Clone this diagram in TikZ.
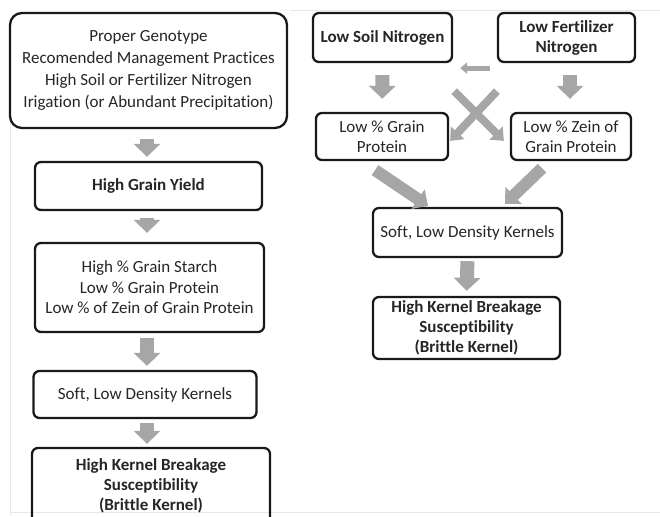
\documentclass[tikz,border=0pt]{standalone}
\usepackage{fontspec}
\setmainfont[Ligatures={NoCommon}]{Carlito}
\usetikzlibrary{arrows.meta,calc}
\definecolor{arrowgray}{HTML}{A6A6A6}
\definecolor{textgray}{HTML}{262626}
\definecolor{framegray}{HTML}{E8E8E8}
\tikzset{
  box/.style={draw=black!90, line width=2.3pt, rounded corners=6pt, align=center,
    inner sep=0pt, text=textgray, font=\fontsize{17}{20.5}\selectfont},
  bigbox/.style={box, rounded corners=12pt, font=\fontsize{17}{22}\selectfont},
  boldbox/.style={box, font=\fontsize{17}{20}\selectfont\bfseries},
  bigarrow/.style={draw=arrowgray, line width=14pt, -{Triangle[width=26pt,length=13pt,fill=arrowgray]}},
  diagarrow/.style={draw=arrowgray, line width=12pt, -{Triangle[width=23pt,length=12pt,fill=arrowgray]}},
  crossarrow/.style={draw=arrowgray, line width=8pt, -{Triangle[width=18pt,length=11pt,fill=arrowgray]}},
  smallarrow/.style={draw=arrowgray, line width=5pt, -{Triangle[width=11pt,length=7pt,fill=arrowgray]}},
}
\begin{document}
\begin{tikzpicture}[x=1pt,y=-1pt]
\useasboundingbox (0,0) rectangle (660,516);
\clip (0,0) rectangle (660,516);
\fill[white] (0,0) rectangle (660,516);
% faint page edges
\draw[framegray, line width=1pt] (10,100) -- (10,516);
\draw[framegray, line width=1pt] (290,11) -- (660,11);
\draw[framegray, line width=1pt] (10,512) -- (660,512);

% left column
\node[bigbox, minimum width=277pt, minimum height=115pt] (b1) at (148.5,70.5)
  {Proper Genotype\\Recomended Management Practices\\High Soil or Fertilizer Nitrogen\\Irigation (or Abundant Precipitation)};
\node[boldbox, minimum width=227pt, minimum height=48pt] (b2) at (148.5,186) {High Grain Yield};
\node[box, minimum width=229pt, minimum height=89pt] (b3) at (149.5,287.5)
  {High \% Grain Starch\\Low \% Grain Protein\\Low \% of Zein of Grain Protein};
\node[box, minimum width=223pt, minimum height=47pt] (b4) at (145,394.5) {Soft, Low Density Kernels};
\node[boldbox, minimum width=238pt, minimum height=76pt] (b5) at (151,486)
  {High Kernel Breakage\\Susceptibility\\(Brittle Kernel)};

\draw[bigarrow, shorten <=10pt, shorten >=4pt] ([xshift=-1.5pt]b1.south) -- ([xshift=-1.5pt]b2.north);
\draw[bigarrow, shorten <=7pt, shorten >=9pt] ([xshift=-1.5pt]b2.south) -- ([xshift=-2.5pt]b3.north);
\draw[bigarrow, shorten <=5pt, shorten >=4pt] ([xshift=-2.5pt]b3.south) -- ([xshift=2pt]b4.north);
\draw[bigarrow, shorten <=4pt, shorten >=3pt] ([xshift=2pt]b4.south) -- ([xshift=-4pt]b5.north);

% right column
\node[boldbox, minimum width=139pt, minimum height=49pt] (soil) at (382.5,37.5) {Low Soil Nitrogen};
\node[boldbox, minimum width=137pt, minimum height=49pt] (fert) at (566.5,37.5) {Low Fertilizer\\Nitrogen};
\node[box, minimum width=132pt, minimum height=47pt] (lgp) at (382,136.5) {Low \% Grain\\Protein};
\node[box, minimum width=120pt, minimum height=47pt] (zein) at (571,136.5) {Low \% Zein of\\Grain Protein};
\node[box, minimum width=189pt, minimum height=49pt] (soft) at (467.5,232.5) {Soft, Low Density Kernels};
\node[boldbox, minimum width=187pt, minimum height=62pt] (hk) at (466.5,328)
  {High Kernel Breakage\\Susceptibility\\(Brittle Kernel)};

\draw[bigarrow, shorten <=12pt, shorten >=13pt] (soil.south) -- (lgp.north);
\draw[bigarrow, shorten <=12pt, shorten >=13pt] ([xshift=3.5pt]fert.south) -- ([xshift=-1pt]zein.north);
\draw[smallarrow] ([shift={(-7,5)}]fert.south west) -- ([shift={(7,5)}]soil.south east);
\draw[crossarrow] ([shift={(1,28)}]soil.south east) -- ([shift={(-6,29)}]zein.north west);
\draw[crossarrow] ([shift={(0,28)}]fert.south west) -- ([shift={(1,29)}]lgp.north east);
\draw[diagarrow] ([shift={(-7,9)}]lgp.south) -- ([shift={(-39.5,-1)}]soft.north);
\draw[diagarrow] ([shift={(-29,7)}]zein.south) -- ([shift={(37.5,-3)}]soft.north);
\draw[bigarrow, shorten <=3pt, shorten >=5pt] (soft.south) -- (hk.north);
\end{tikzpicture}
\end{document}
